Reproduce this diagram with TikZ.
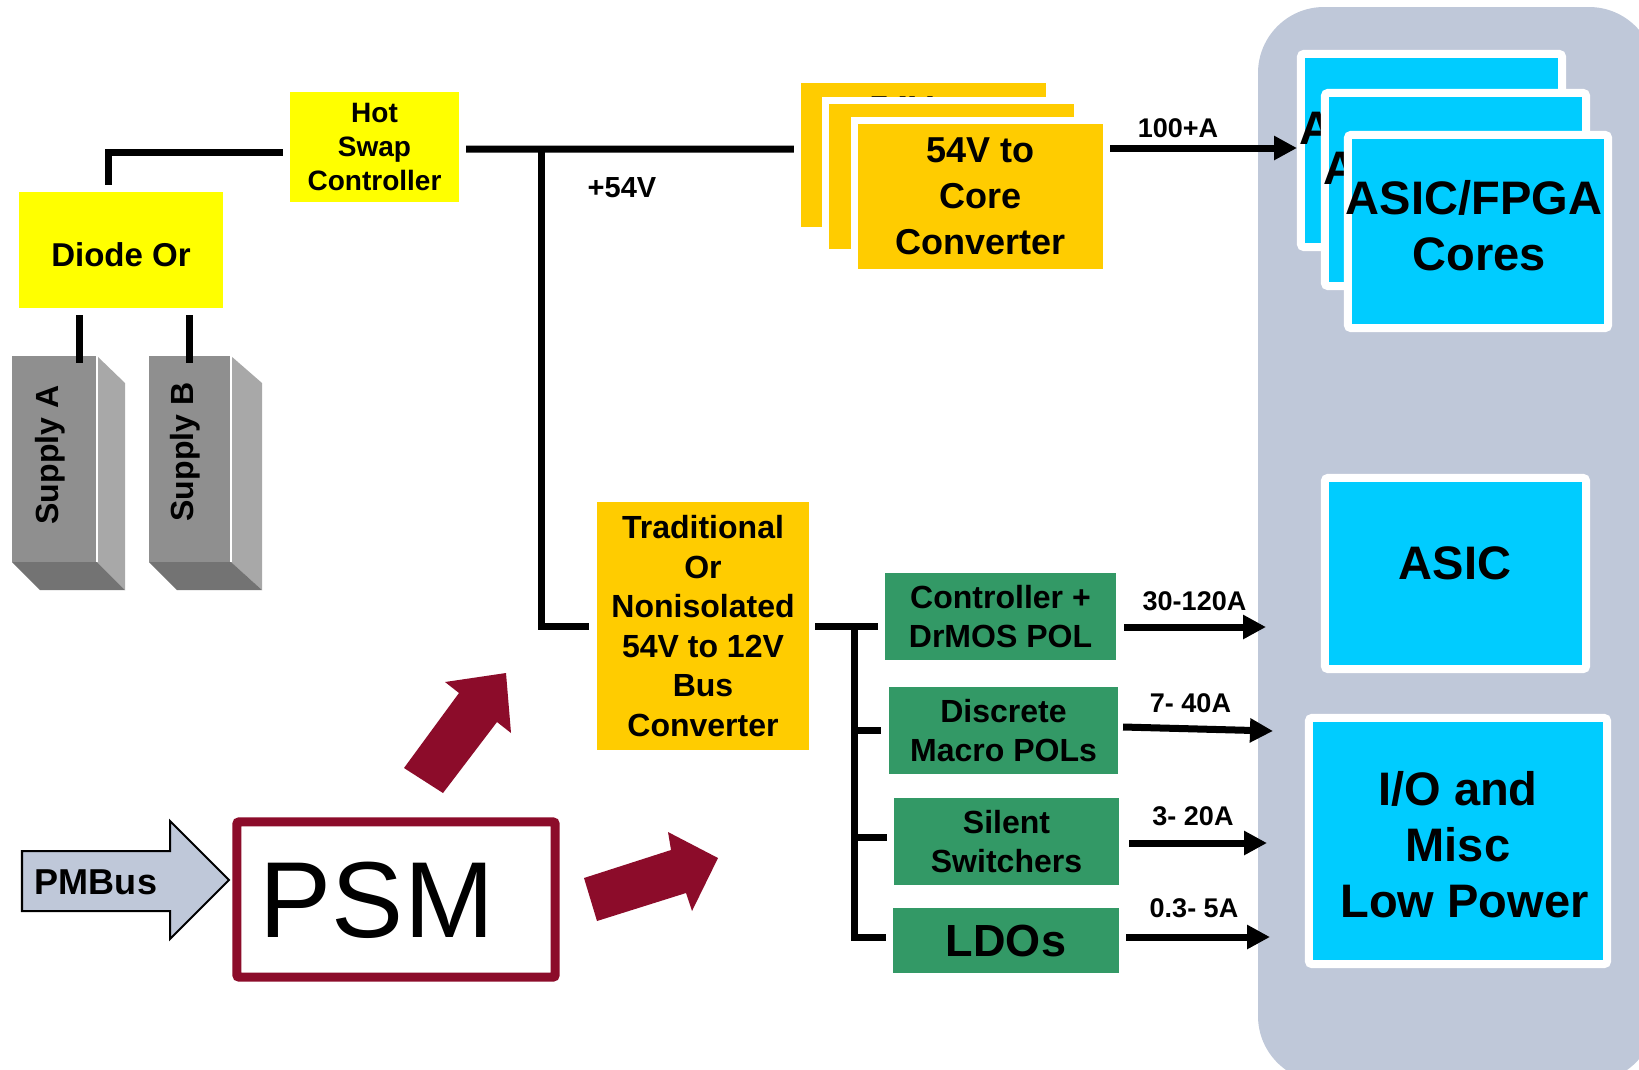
\documentclass[tikz,border=0pt]{standalone}
\usepackage{fontspec}
\setmainfont{Liberation Sans}
\usetikzlibrary{arrows.meta}
\definecolor{yellowc}{RGB}{255,255,0}
\definecolor{orangec}{RGB}{255,204,0}
\definecolor{greenc}{RGB}{51,153,102}
\definecolor{cyanc}{RGB}{0,204,255}
\definecolor{panelc}{RGB}{191,200,217}
\definecolor{maroonc}{RGB}{140,12,42}
\definecolor{supfrontc}{RGB}{143,143,143}
\definecolor{supsidec}{RGB}{168,168,168}
\definecolor{supbotc}{RGB}{115,115,115}
\newcommand\fsz[2]{\fontsize{\fpeval{#1*0.28453}pt}{\fpeval{#2*0.28453}pt}\selectfont}
\tikzset{
  wire/.style={line width=0.07cm},
  arr/.style={wire,-{Triangle[length=0.23cm,width=0.23cm]}},
  ybox/.style={fill=yellowc,inner sep=0,outer sep=0,align=center},
  obox/.style={fill=orangec,draw=white,line width=0.07cm,minimum width=2.52cm,minimum height=1.51cm,
    inner sep=0,outer sep=0,align=center,font=\bfseries\fsz{36}{46}},
  tbox/.style={fill=orangec,inner sep=0,outer sep=0,align=center,font=\bfseries\fsz{32}{39.5}},
  gbox/.style={fill=greenc,inner sep=0,outer sep=0,minimum height=0.87cm,align=center,font=\bfseries\fsz{32}{39}},
  cbox/.style={fill=cyanc,draw=white,line width=0.08cm,rounded corners=0.03cm,inner sep=0,outer sep=0},
  bigtxt/.style={font=\bfseries\fsz{47}{56},inner sep=0,align=center},
  amp/.style={font=\bfseries\fsz{27}{30},inner sep=0,anchor=base},
  supface/.style={fill=supfrontc,inner sep=0,outer sep=0,minimum width=0.85cm,minimum height=2.06cm},
  suptxt/.style={rotate=90,font=\bfseries\fsz{32}{36},inner sep=0},
}
\begin{document}
\begin{tikzpicture}[x=0.01cm,y=-0.01cm]
\useasboundingbox (0,0) rectangle (1639,1069);
\clip (0,0) rectangle (1639,1069);
\fill[white] (0,0) rectangle (1639,1069);

% right panel
\fill[panelc,rounded corners=0.66cm] (1258,7) rectangle (1655,1082);

% supplies
\node[supface] (supA) at (54.5,459) {};
\fill[supsidec] (97,356) -- (125,383) -- (125,590) -- (97,562) -- cycle;
\fill[supbotc] (12,562) -- (97,562) -- (125,590) -- (40,590) -- cycle;
\draw[white,line width=0.012cm] (97,356) -- (97,562);
\node[suptxt] (supAtxt) at (50,455) {Supply A};
\node[supface,minimum width=0.82cm] (supB) at (190,459) {};
\fill[supsidec] (231,356) -- (262,383) -- (262,590) -- (231,562) -- cycle;
\fill[supbotc] (149,562) -- (231,562) -- (262,590) -- (177,590) -- cycle;
\draw[white,line width=0.012cm] (231,356) -- (231,562);
\node[suptxt] (supBtxt) at (185,452) {Supply B};

% yellow boxes
\node[ybox,minimum width=2.04cm,minimum height=1.16cm,font=\bfseries\fsz{33}{38},text height=0.336cm,text depth=0cm] (diode) at (121,250) {Diode Or};
\node[ybox,minimum width=1.69cm,minimum height=1.10cm,font=\bfseries\fsz{28}{33.5}] (hotswap) at (374.5,147) {Hot\\Swap\\Controller};

% 54V to core converters
\node[obox] (cv1) at (923.5,155) {54V to\\Core\\Converter};
\node[obox] (cv2) at (951.5,176.5) {54V to\\Core\\Converter};
\node[obox] (cv3) at (980.5,196.5) {54V to\\Core\\Converter};

% bus converter
\node[tbox,minimum width=2.12cm,minimum height=2.48cm] (trad) at (703,626) {Traditional\\Or\\Nonisolated\\54V to 12V\\Bus\\Converter};

% green POLs
\node[gbox,minimum width=2.31cm] (ctrl) at (1000.5,616.5) {Controller +\\DrMOS POL};
\node[gbox,minimum width=2.29cm] (disc) at (1003.5,730.5) {Discrete\\Macro POLs};
\node[gbox,minimum width=2.25cm] (silent) at (1006.5,841.5) {Silent\\Switchers};
\node[gbox,minimum width=2.26cm,minimum height=0.65cm,font=\bfseries\fsz{45}{50}] (ldo) at (1006,940.5) {LDOs};

% cyan loads
\node[cbox,minimum width=2.61cm,minimum height=1.93cm] (coreA) at (1431.5,150.5) {};
\node[bigtxt,anchor=base] (coreAt1) at (1427.5,144) {ASIC/FPGA};
\node[bigtxt,anchor=base] (coreAt2) at (1433,200) {Cores};
\node[cbox,minimum width=2.61cm,minimum height=1.93cm] (coreB) at (1455.5,189.5) {};
\node[bigtxt,anchor=base] (coreBt1) at (1451.5,184) {ASIC/FPGA};
\node[bigtxt,anchor=base] (coreBt2) at (1457,240) {Cores};
\node[cbox,minimum width=2.60cm,minimum height=1.93cm] (coreC) at (1478,231.5) {};
\node[bigtxt,anchor=base] (coreCt1) at (1474,214) {ASIC/FPGA};
\node[bigtxt,anchor=base] (coreCt2) at (1479,270) {Cores};
\node[cbox,minimum width=2.61cm,minimum height=1.91cm] (asic) at (1455.5,573.5) {};
\node[bigtxt,anchor=base] (asict) at (1455,579) {ASIC};
\node[cbox,minimum width=2.98cm,minimum height=2.46cm] (io) at (1458,841) {};
\node[bigtxt] (iot) at (1458,845) {I/O and\\Misc\\\hspace*{3.7pt}Low Power};

% PMBus and PSM
\path[fill=panelc,draw=black,line width=0.02cm] (22,851) -- (170,851) -- (170,821) -- (229,880) -- (170,939) -- (170,911) -- (22,911) -- cycle;
\node[font=\bfseries\fsz{36}{40},inner sep=0] (pmbus) at (96,882) {PMBus};
\node[draw=maroonc,line width=0.09cm,rounded corners=0.02cm,minimum width=3.18cm,minimum height=1.55cm,inner sep=0] (psm) at (396,899.5) {};
\node[font=\fsz{108}{120},inner sep=0] (psmt) at (377,900) {PSM};
\fill[maroonc] (404,768) -- (443,793) -- (497,722) -- (511,733) -- (506,673) -- (445,682) -- (459,693) -- cycle;
\fill[maroonc] (584,878) -- (597,921) -- (686,893) -- (692,911) -- (718,858) -- (668,832) -- (671,850) -- cycle;

% connectors
\draw[wire] ([xshift=-0.07cm,yshift=-0.05cm]hotswap.west) -| ([xshift=-0.12cm,yshift=0.07cm]diode.north);
\draw[wire] ([xshift=-0.41cm,yshift=-0.07cm]diode.south) -- ([xshift=-0.41cm,yshift=-0.07cm]diode.south |- supA.north);
\draw[wire] ([xshift=0.68cm,yshift=-0.07cm]diode.south) -- ([xshift=0.68cm,yshift=-0.07cm]diode.south |- supB.north);
\coordinate (j54) at (541,149);
\draw[wire] ([xshift=0.07cm,yshift=-0.02cm]hotswap.east) -- ([xshift=-0.035cm]cv1.west |- j54);
\draw[wire] (j54) |- ([xshift=-0.08cm]trad.west);
\draw[wire] ([xshift=0.06cm]trad.east) -- ([xshift=-0.07cm]ctrl.west |- trad.east);
\coordinate (bus) at (854,626);
\draw[wire] (bus) |- ([xshift=-0.07cm,yshift=0.035cm]ldo.west);
\draw[wire] (bus |- disc.west) -- ([xshift=-0.08cm]disc.west);
\draw[wire] ([yshift=0.045cm]bus |- silent.west) -- ([xshift=-0.07cm,yshift=0.045cm]silent.west);

\coordinate (t0) at (1297,148);
\coordinate (t1) at (1266,627);
\coordinate (t2) at (1273,731);
\coordinate (t3) at (1267,843);
\coordinate (t4) at (1270,937);
\draw[arr] ([xshift=0.035cm]cv3.east |- t0) -- (t0);
\draw[arr] ([xshift=0.08cm]ctrl.east |- t1) -- (t1);
\draw[arr] ([xshift=0.05cm,yshift=0.035cm]disc.east) -- (t2);
\draw[arr] ([xshift=0.1cm]silent.east |- t3) -- (t3);
\draw[arr] ([xshift=0.07cm]ldo.east |- t4) -- (t4);

% labels
\node[amp] (l0) at (1178,137) {100+A};
\node[amp] (l1) at (1194.5,610) {30-120A};
\node[amp] (l2) at (1190.5,712) {7- 40A};
\node[amp] (l3) at (1193,825) {3- 20A};
\node[amp] (l4) at (1194,917) {0.3- 5A};
\node[amp,font=\bfseries\fsz{29}{32}] (v54) at (622,197) {+54V};
\end{tikzpicture}
\end{document}
